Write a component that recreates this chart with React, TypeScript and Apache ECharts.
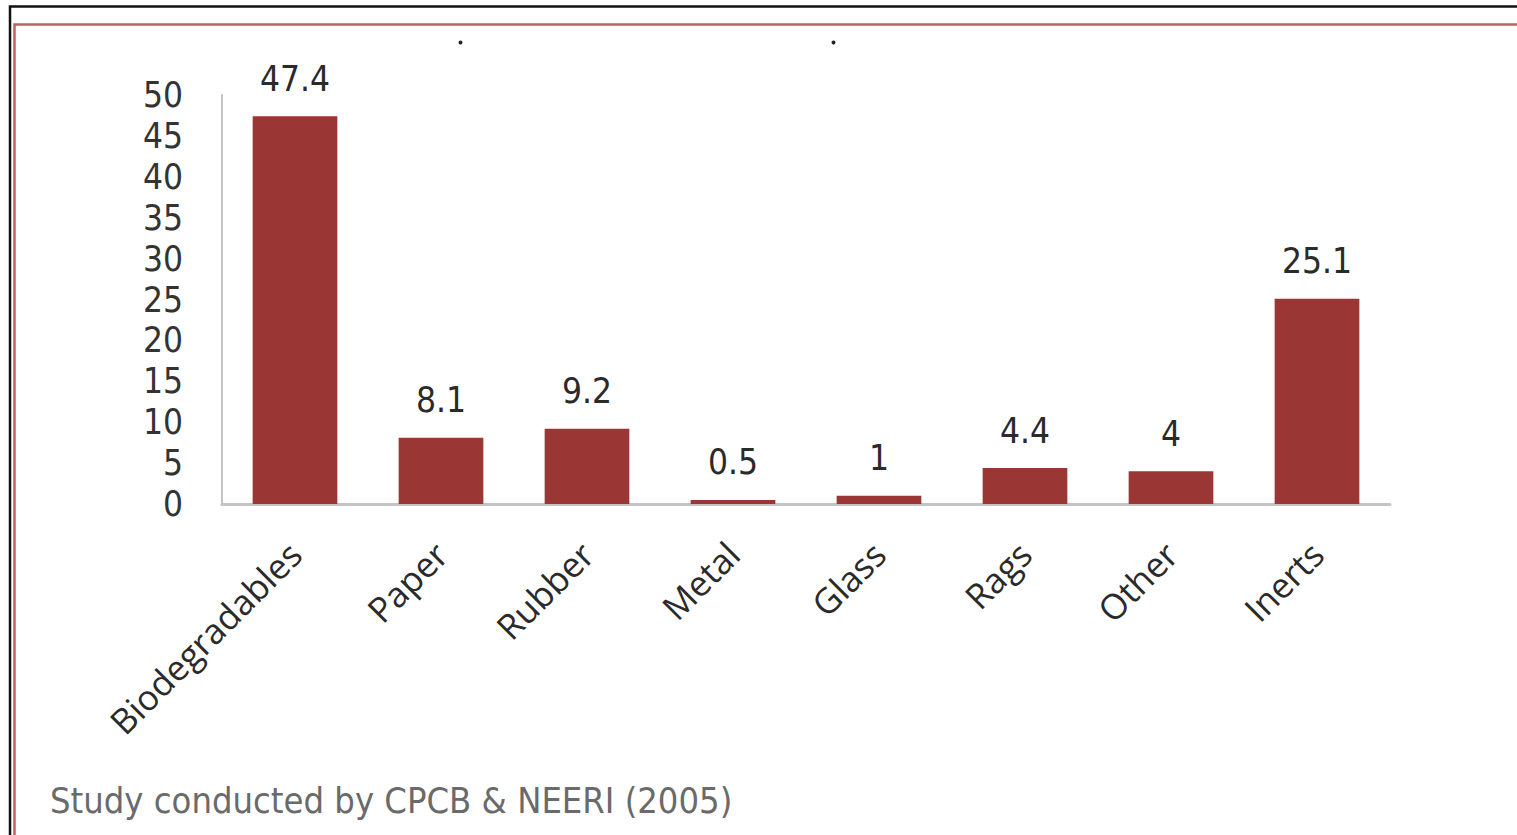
import React, { useEffect, useRef } from "react";
import * as echarts from "echarts";

const categories = ["Biodegradables", "Paper", "Rubber", "Metal", "Glass", "Rags", "Other", "Inerts"];
const values = [47.4, 8.1, 9.2, 0.5, 1, 4.4, 4, 25.1];
const yTicks = [0, 5, 10, 15, 20, 25, 30, 35, 40, 45, 50];
const footerText = "Study conducted by CPCB & NEERI (2005)";

const NARROW = "'Liberation Sans Narrow', 'DejaVu Sans Condensed', 'Roboto', sans-serif";
const REGULAR = "'Open Sans', 'Liberation Sans', sans-serif";

export default function App() {
  const ref = useRef<HTMLDivElement>(null);
  useEffect(() => {
    if (!ref.current) return;
    const chart = echarts.init(ref.current, null, { renderer: "svg" });
    chart.setOption({
      animation: false,
      backgroundColor: "#ffffff",
      grid: { left: 222, right: 127, top: 95, bottom: 331, containLabel: false },
      xAxis: {
        type: "category",
        data: categories,
        axisLine: { show: true, lineStyle: { color: "#c4c4c4", width: 3 } },
        axisTick: { show: false },
        axisLabel: {
          rotate: 45,
          margin: 44,
          color: "#2a2a2a",
          fontFamily: REGULAR,
          fontSize: 35,
          interval: 0,
        },
      },
      yAxis: {
        type: "value",
        min: yTicks[0],
        max: yTicks[yTicks.length - 1],
        interval: 5,
        splitLine: { show: false },
        axisTick: { show: false },
        axisLine: { show: true, lineStyle: { color: "#c4c4c4", width: 2 } },
        axisLabel: {
          margin: 39,
          color: "#333333",
          fontFamily: NARROW,
          fontSize: 35,
        },
      },
      series: [
        {
          type: "bar",
          data: values,
          barWidth: "58%",
          itemStyle: { color: "#9a3634" },
          label: {
            show: true,
            position: "top",
            distance: 20,
            color: "#2a2a2a",
            fontFamily: NARROW,
            fontSize: 35,
            lineHeight: 35,
          },
        },
      ],
      graphic: [
        {
          type: "polyline",
          shape: { points: [[10, 900], [10, 6.5], [1530, 6.5]] },
          style: { stroke: "#111111", lineWidth: 2.5, fill: null },
          silent: true,
        },
        {
          type: "polyline",
          shape: { points: [[14.5, 900], [14.5, 24.5], [1530, 24.5]] },
          style: { stroke: "#c06262", lineWidth: 2.5, fill: null },
          silent: true,
        },
        { type: "circle", shape: { cx: 460.5, cy: 42.5, r: 2 }, style: { fill: "#222" }, silent: true },
        { type: "circle", shape: { cx: 833.5, cy: 42.5, r: 2 }, style: { fill: "#222" }, silent: true },
        {
          type: "text",
          left: 50,
          top: 782,
          style: {
            text: footerText,
            fill: "#6a6a6a",
            font: `36px ${NARROW}`,
          },
          silent: true,
        },
      ],
    });
    return () => chart.dispose();
  }, []);
  return (
    <div
      ref={ref}
      style={{ position: "absolute", left: 0, top: 0, width: 1517, height: 835 }}
    />
  );
}
